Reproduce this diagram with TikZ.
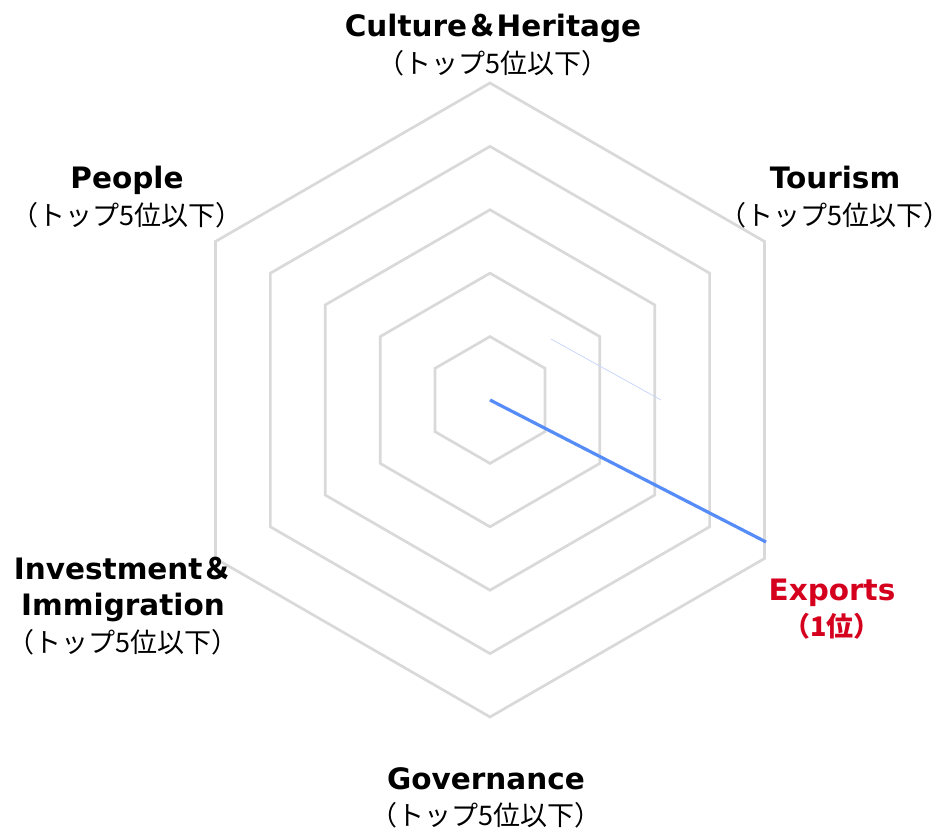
\documentclass[tikz,border=0pt]{standalone}
\usepackage{fontspec}
\setmainfont{DejaVu Sans}
\newfontfamily\jp{Noto Sans CJK JP}
\usepackage{xcolor}
\usepackage{tikz}
\usetikzlibrary{positioning,calc}

\definecolor{ringgray}{RGB}{217,217,217}
\definecolor{serieblue}{RGB}{86,140,248}
\definecolor{faintblue}{RGB}{200,215,250}
\definecolor{rankred}{RGB}{212,0,30}

\begin{document}
\begin{tikzpicture}[
    x=1pt, y=1pt,
    ring/.style={draw=ringgray, line width=2.7pt, line join=miter},
    axislabel/.style={align=center, font=\fontsize{29.5}{36.5}\selectfont, inner sep=0pt},
    serie/.style={draw=serieblue, line width=3.2pt},
    faint/.style={draw=faintblue, line width=0.8pt}
]
    \useasboundingbox (0,0) rectangle (951,835);
    \coordinate (O) at (490,435);

    % Rings
    \foreach \r in {1,...,5}
        \draw[ring] ($(O)+(90:63.4*\r)$) -- ($(O)+(30:63.4*\r)$) -- ($(O)+(-30:63.4*\r)$)
            -- ($(O)+(-90:63.4*\r)$) -- ($(O)+(-150:63.4*\r)$) -- ($(O)+(150:63.4*\r)$) -- cycle;

    % Series
    \coordinate (exp) at ($(O)+(276,-142)$);
    \coordinate (fa) at ($(O)+(61,61)$);
    \coordinate (fb) at ($(O)+(171,0)$);
    \draw[faint] (fa) -- (fb);
    \draw[serie] (O) -- (exp);

    % Labels
    \newcommand{\jpsub}[1]{{\jp\fontsize{27}{36.5}\selectfont #1}}
    \node[axislabel] (culture) at (493,790) {\textbf{Culture{\jp ＆}Heritage}\\\jpsub{（トップ5位以下）}};
    \node[axislabel] (tourism) at (835,638) {\textbf{Tourism}\\\jpsub{（トップ5位以下）}};
    \node[axislabel] (people) at (127,638) {\textbf{People}\\\jpsub{（トップ5位以下）}};
    \node[axislabel, text=rankred] (exports) at (832,226) {\textbf{Exports}\\\jpsub{\bfseries （1位）}};
    \node[axislabel] (invest) at (123,229) {\textbf{Investment{\jp ＆}}\\\textbf{Immigration}\\\jpsub{（トップ5位以下）}};
    \node[axislabel] (gov) at (486,37) {\textbf{Governance}\\\jpsub{（トップ5位以下）}};
\end{tikzpicture}
\end{document}
